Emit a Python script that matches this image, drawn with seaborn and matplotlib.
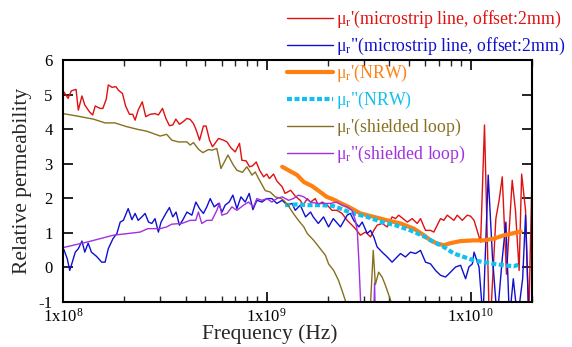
import matplotlib
matplotlib.use("Agg")
import matplotlib.pyplot as plt
import matplotlib.ticker as mticker
import seaborn as sns
import pandas as pd

# ---------------- data ----------------
ms_re_freq = [1.01e8,1.06e8,1.10e8,1.16e8,1.19e8,1.24e8,1.28e8,1.35e8,1.40e8,1.44e8,
              1.52e8,1.57e8,1.63e8,1.67e8,1.74e8,1.82e8,1.87e8,1.96e8,2.03e8,2.12e8,
              2.20e8,2.26e8,2.34e8,2.45e8,2.55e8,2.68e8,2.83e8,2.94e8,3.08e8,3.20e8,
              3.33e8,3.46e8,3.58e8,3.73e8,3.88e8,4.06e8,4.21e8,4.37e8,4.51e8,4.68e8,
              4.89e8,5.04e8,5.24e8,5.42e8,5.80e8,6.14e8,6.38e8,6.67e8,7.00e8,7.35e8,
              7.55e8,7.93e8,8.23e8,8.52e8,8.88e8,9.22e8,9.65e8,1.00e9,1.03e9,1.08e9,
              1.12e9,1.19e9,1.23e9,1.31e9,1.38e9,1.46e9,1.51e9,1.58e9,1.64e9,1.73e9,
              1.79e9,1.87e9,1.98e9,2.09e9,2.21e9,2.34e9,2.48e9,2.62e9,2.72e9,2.88e9,
              3.05e9,3.23e9,3.35e9,3.48e9,3.68e9,3.90e9,4.12e9,4.28e9,4.44e9,4.89e9,
              5.17e9,5.47e9,5.68e9,6.01e9,6.36e9,6.60e9,6.86e9,7.12e9,7.39e9,7.68e9,
              8.28e9,8.60e9,9.10e9,9.63e9,1.00e10,1.04e10,1.12e10,1.17e10,1.24e10,1.33e10,
              1.38e10,1.43e10,1.50e10,1.60e10,1.66e10,1.73e10,1.78e10,1.86e10,1.93e10,2.01e10]
ms_re_val = [5.08,4.89,5.11,5.15,4.55,4.96,4.70,4.50,4.41,4.67,
             4.60,4.60,4.86,5.28,5.21,5.23,5.13,5.03,4.67,4.43,
             4.43,4.26,4.55,4.79,4.36,4.43,4.45,4.41,4.60,4.31,
             4.10,4.12,4.29,4.14,4.21,4.31,4.28,4.16,3.97,3.68,
             4.09,4.09,3.68,3.49,3.73,3.68,3.63,3.46,3.34,3.59,
             3.10,3.08,2.91,2.94,3.05,2.81,2.62,2.70,2.57,2.70,
             2.50,2.33,2.14,2.23,2.06,1.94,1.80,1.99,1.89,1.99,
             1.80,1.89,1.80,1.65,1.65,1.56,1.36,1.22,1.12,0.93,
             1.02,0.88,1.07,1.22,1.27,1.17,1.46,1.41,1.51,1.31,
             1.41,1.27,1.41,1.07,1.07,1.02,1.22,1.41,1.36,1.51,
             1.36,1.51,1.36,1.51,1.48,1.36,0.73,4.12,-2.0,1.41,
             1.94,2.62,-0.2,2.52,1.65,-0.09,2.70,1.65,-1.5,3.20]

ms_im_freq = [1.01e8,1.05e8,1.08e8,1.10e8,1.15e8,1.19e8,1.24e8,1.28e8,1.33e8,1.38e8,
              1.46e8,1.55e8,1.61e8,1.67e8,1.76e8,1.84e8,1.91e8,1.98e8,2.09e8,2.18e8,
              2.26e8,2.34e8,2.44e8,2.53e8,2.63e8,2.73e8,2.83e8,2.94e8,3.03e8,3.20e8,
              3.33e8,3.46e8,3.59e8,3.73e8,3.88e8,4.06e8,4.29e8,4.49e8,4.68e8,4.89e8,
              5.08e8,5.28e8,5.52e8,5.80e8,6.03e8,6.25e8,6.54e8,6.82e8,7.14e8,7.47e8,
              7.84e8,8.20e8,8.55e8,8.95e8,9.47e8,1.00e9,1.06e9,1.12e9,1.19e9,1.26e9,
              1.33e9,1.38e9,1.46e9,1.55e9,1.64e9,1.69e9,1.79e9,1.90e9,2.01e9,2.12e9,
              2.30e9,2.48e9,2.57e9,2.67e9,2.83e9,2.94e9,3.11e9,3.23e9,3.35e9,3.48e9,
              3.68e9,3.90e9,4.12e9,4.36e9,4.53e9,4.79e9,5.07e9,5.37e9,5.68e9,6.01e9,
              6.36e9,6.73e9,7.12e9,7.54e9,7.97e9,8.44e9,8.93e9,9.45e9,9.81e9,1.02e10,
              1.04e10,1.10e10,1.15e10,1.22e10,1.28e10,1.35e10,1.43e10,1.49e10,1.55e10,1.62e10,
              1.70e10,1.80e10,1.86e10,1.93e10]
ms_im_val = [0.52,0.25,-0.09,0.06,0.44,0.54,0.76,0.44,0.70,0.44,
             0.32,0.15,0.15,0.54,0.83,0.98,1.31,1.36,1.70,1.38,
             1.56,1.36,1.46,1.56,1.31,1.27,1.41,1.02,1.31,1.56,
             1.73,1.46,1.60,1.22,1.38,1.60,1.51,1.89,1.70,1.56,
             1.75,1.99,1.75,1.85,1.60,1.80,1.89,2.09,1.70,2.04,
             1.89,2.14,1.67,1.94,1.89,1.99,1.99,1.85,1.94,1.80,
             1.85,1.65,1.80,1.46,1.60,1.46,1.27,1.46,1.17,1.41,
             1.17,1.51,1.56,1.36,1.17,1.31,0.98,1.07,0.88,0.59,
             0.44,0.30,0.15,0.30,0.40,0.30,0.44,0.40,0.49,0.15,
             0.10,-0.09,-0.23,-0.28,-0.14,0.01,0.06,-0.33,0.01,0.10,
             0.44,0.01,-1.5,2.67,0.30,-1.5,0.25,1.31,-1.5,-0.33,
             -1.5,-0.33,1.51,-1.5]

nrw_re_freq = [1.19e9,1.26e9,1.41e9,1.52e9,1.67e9,1.83e9,1.97e9,2.13e9,2.30e9,2.48e9,
               2.67e9,2.88e9,3.35e9,3.90e9,4.53e9,5.27e9,5.90e9,6.36e9,6.86e9,7.39e9,
               7.97e9,8.93e9,1.04e10,1.16e10,1.30e10,1.46e10,1.60e10,1.76e10]
nrw_re_val = [2.91,2.83,2.67,2.47,2.35,2.18,2.04,1.96,1.86,1.77,
              1.67,1.56,1.46,1.36,1.27,1.12,0.93,0.78,0.69,0.64,
              0.70,0.76,0.78,0.78,0.83,0.93,0.98,1.04]

nrw_im_freq = [1.23e9,1.40e9,1.60e9,1.85e9,2.10e9,2.30e9,2.48e9,2.67e9,3.11e9,3.68e9,
               4.28e9,5.07e9,5.98e9,6.60e9,7.39e9,8.28e9,9.27e9,1.04e10,1.16e10,1.30e10,
               1.46e10,1.63e10,1.76e10]
nrw_im_val = [1.80,1.82,1.80,1.80,1.78,1.70,1.62,1.56,1.46,1.31,
              1.22,1.07,0.88,0.73,0.59,0.40,0.30,0.20,0.15,0.10,
              0.06,0.03,0.10]

sl_re_freq = [1.00e8,1.17e8,1.41e8,1.61e8,1.80e8,2.06e8,2.34e8,2.58e8,3.00e8,3.23e8,
              3.42e8,3.69e8,4.06e8,4.21e8,4.37e8,4.62e8,4.86e8,5.18e8,5.38e8,5.69e8,
              5.96e8,6.45e8,6.87e8,7.14e8,7.60e8,7.99e8,8.46e8,8.78e8,9.12e8,9.50e8,
              9.83e8,1.04e9,1.10e9,1.17e9,1.21e9,1.27e9,1.35e9,1.43e9,1.52e9,1.58e9,
              1.70e9,1.83e9,1.94e9,2.01e9,2.13e9,2.25e9,2.34e9,2.43e9,2.70e9,3.05e9,
              3.20e9,3.33e9,3.41e9,3.54e9,3.68e9,3.82e9,4.05e9,4.30e9]
sl_re_val = [4.45,4.38,4.29,4.18,4.18,4.07,3.99,3.94,3.80,3.85,
             3.68,3.63,3.63,3.54,3.61,3.42,3.32,3.41,3.39,3.44,
             2.86,3.25,2.95,2.81,2.75,2.91,2.67,2.76,2.57,2.38,
             2.22,2.18,2.04,2.00,1.94,1.80,1.56,1.36,1.17,0.98,
             0.78,0.54,0.35,0.10,-0.09,-0.38,-0.67,-0.96,-3.0,-3.0,
             -1.5,0.49,-0.50,-0.14,-0.28,-0.52,-0.95,-1.5]

sl_im_freq = [1.00e8,1.31e8,1.77e8,2.39e8,2.61e8,3.00e8,3.23e8,3.42e8,3.83e8,4.21e8,
              4.48e8,4.62e8,4.80e8,5.08e8,5.38e8,5.69e8,5.86e8,6.02e8,6.38e8,6.75e8,
              7.14e8,7.69e8,8.14e8,8.61e8,8.94e8,9.47e8,1.00e9,1.06e9,1.12e9,1.19e9,
              1.28e9,1.35e9,1.43e9,1.52e9,1.64e9,1.77e9,1.90e9,2.05e9,2.21e9,2.34e9,
              2.48e9,2.62e9,2.72e9,2.78e9,2.83e9,2.88e9,2.95e9,3.30e9,3.38e9,3.45e9]
sl_im_val = [0.57,0.73,0.93,1.02,1.12,1.12,1.17,1.25,1.27,1.36,
             1.36,1.60,1.27,1.36,1.36,1.65,1.86,1.51,1.56,1.75,
             1.65,1.80,1.89,1.75,1.99,1.94,1.99,1.89,1.99,2.04,
             1.94,1.99,2.09,2.04,1.89,1.85,1.85,1.85,1.89,1.80,
             1.75,1.65,1.36,1.07,0.20,-0.86,-3.0,-3.0,-0.45,-3.0]

labels = ["μ$_\\mathrm{r}$'(microstrip line, offset:2mm)",
          "μ$_\\mathrm{r}$\"(microstrip line, offset:2mm)",
          "μ$_\\mathrm{r}$'(NRW)",
          "μ$_\\mathrm{r}$\"(NRW)",
          "μ$_\\mathrm{r}$'(shielded loop)",
          "μ$_\\mathrm{r}$\"(shielded loop)"]
x_tick_vals = [1e8, 1e9, 1e10]
x_tick_labels = ["1x10$^{8}$", "1x10$^{9}$", "1x10$^{10}$"]
y_ticks = [-1, 0, 1, 2, 3, 4, 5, 6]

# ---------------- styling ----------------
sns.set_theme(style="ticks")
plt.rcParams["font.family"] = ["Liberation Serif", "DejaVu Serif"]
plt.rcParams["mathtext.fontset"] = "custom"
plt.rcParams["mathtext.rm"] = "Liberation Serif"
plt.rcParams["mathtext.it"] = "Liberation Serif:italic"
plt.rcParams["mathtext.bf"] = "Liberation Serif:bold"

fig = plt.figure(figsize=(5.72, 3.47), dpi=100)
ax = fig.add_axes([0.110, 0.130, 0.820, 0.697])

series = [
    (ms_re_freq, ms_re_val, "#e01010", dict(linewidth=1.0)),
    (ms_im_freq, ms_im_val, "#1010d0", dict(linewidth=1.0)),
    (nrw_re_freq, nrw_re_val, "#ff8010", dict(linewidth=3.0)),
    (nrw_im_freq, nrw_im_val, "#10c0f0", dict(linewidth=3.0, dashes=(1.2, 0.6))),
    (sl_re_freq, sl_re_val, "#857020", dict(linewidth=1.0)),
    (sl_im_freq, sl_im_val, "#a030e0", dict(linewidth=1.0)),
]

for (fx, fy, col, kw), lab in zip(series, labels):
    df = pd.DataFrame({"freq": fx, "val": fy})
    sns.lineplot(data=df, x="freq", y="val", ax=ax, color=col, label=lab,
                 estimator=None, sort=False, **kw)

ax.set_xscale("log")
ax.set_xlim(1e8, 2e10)
ax.set_ylim(-1, 6)
ax.xaxis.set_major_locator(mticker.FixedLocator(x_tick_vals))
ax.xaxis.set_major_formatter(mticker.FixedFormatter(x_tick_labels))
ax.xaxis.set_minor_locator(mticker.LogLocator(base=10, subs=range(2, 10), numticks=20))
ax.xaxis.set_minor_formatter(mticker.NullFormatter())
ax.set_yticks(y_ticks)
ax.set_yticklabels([str(v) for v in y_ticks])

ax.tick_params(axis="both", which="major", direction="in", length=7, width=1.2,
               top=True, right=True, labelsize=12, colors="black")
ax.tick_params(axis="x", which="major", pad=4)
ax.tick_params(axis="y", which="major", pad=7.5)
ax.tick_params(axis="x", which="minor", direction="in", length=4.5, width=1.0,
               top=True, bottom=True)
for sp in ax.spines.values():
    sp.set_linewidth(1.5)
    sp.set_color("black")
    sp.set_visible(True)

ax.set_xlabel("Frequency (Hz)", fontsize=15.5)
ax.set_ylabel("Relative permeability", fontsize=15.5)
ax.xaxis.set_label_coords(0.441, -0.093)
ax.yaxis.set_label_coords(-0.066, 0.50)

handles, labs = ax.get_legend_handles_labels()
ax.legend(handles, labs, loc="upper left", bbox_to_anchor=(0.498, 0.980),
          bbox_transform=fig.transFigure, frameon=False, fontsize=12.8,
          handlelength=2.58, handletextpad=0.22, labelspacing=0.33,
          borderpad=0.1, borderaxespad=0.0, labelcolor="linecolor")

fig.savefig("out.png", dpi=100)
